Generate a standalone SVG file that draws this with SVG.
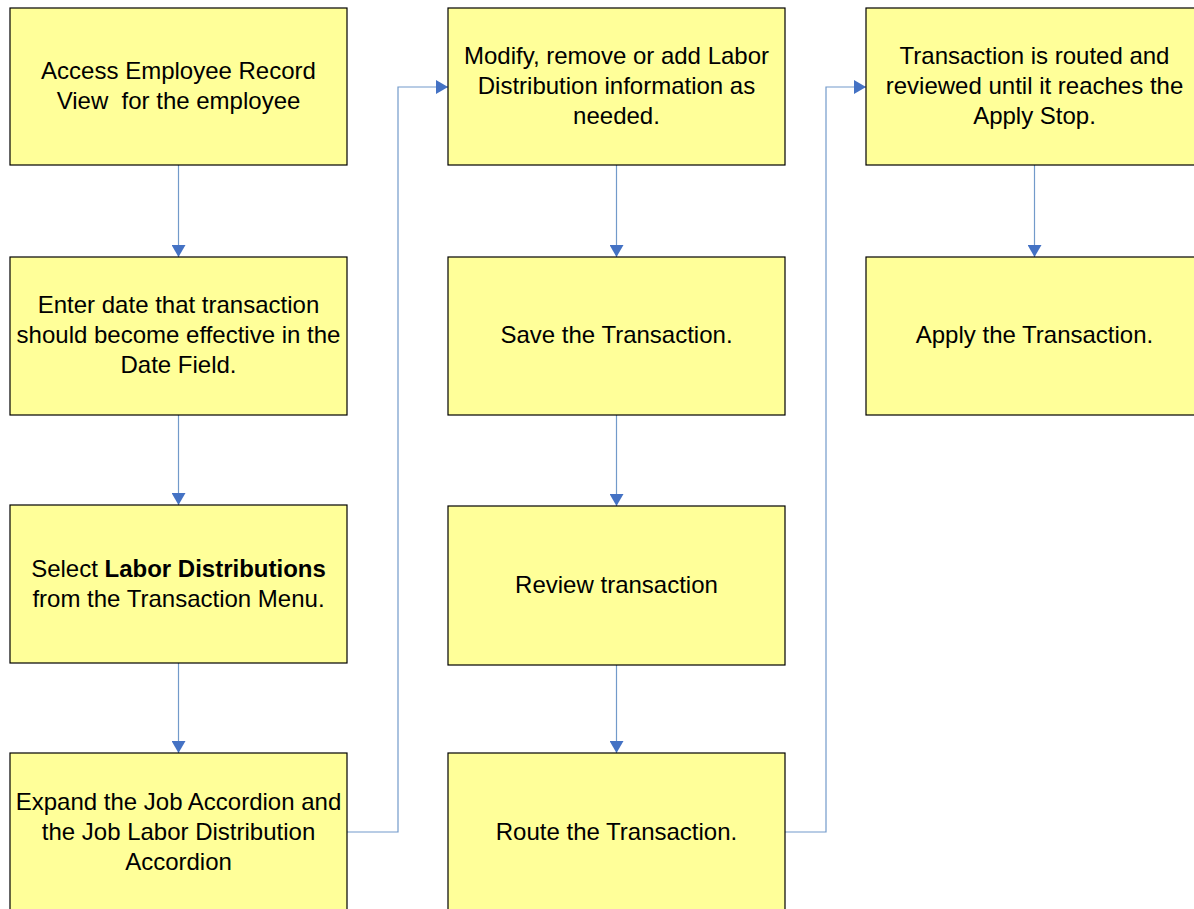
<svg xmlns="http://www.w3.org/2000/svg" width="1194" height="909" viewBox="0 0 1194 909">
<style>
.box{fill:#ffff99;stroke:#000;stroke-width:1.2}
.t{font-family:'Liberation Sans',Arimo,Arial,Helvetica,sans-serif;font-size:24px;fill:#000;text-anchor:middle}
.c{fill:none;stroke:#4f81bd;stroke-width:1.2;stroke-opacity:0.8}
</style>
<defs>
<marker id="ah" markerWidth="12" markerHeight="14" refX="12" refY="7" orient="auto" markerUnits="userSpaceOnUse">
<path d="M0,0 L12,7 L0,14 Z" fill="#4472c4"/>
</marker>
</defs>
<rect width="1194" height="909" fill="#fff"/>
<g id="connectors">
<path class="c" d="M178.5,165 V257" marker-end="url(#ah)"/>
<path class="c" d="M178.5,415 V505" marker-end="url(#ah)"/>
<path class="c" d="M178.5,663 V753" marker-end="url(#ah)"/>
<path class="c" d="M347,832 H398 V87 H448" marker-end="url(#ah)"/>
<path class="c" d="M616.5,165 V257" marker-end="url(#ah)"/>
<path class="c" d="M616.5,415 V506" marker-end="url(#ah)"/>
<path class="c" d="M616.5,665 V753" marker-end="url(#ah)"/>
<path class="c" d="M785,832 H826 V87 H866" marker-end="url(#ah)"/>
<path class="c" d="M1034.5,165 V257" marker-end="url(#ah)"/>
</g>
<g id="n1"><rect class="box" x="10" y="8" width="337" height="157"/>
<text class="t" x="178.5" y="79">Access Employee Record</text>
<text class="t" x="178.5" y="109" xml:space="preserve">View  for the employee</text></g>
<g id="n2"><rect class="box" x="10" y="257" width="337" height="158"/>
<text class="t" x="178.5" y="313">Enter date that transaction</text>
<text class="t" x="178.5" y="343">should become effective in the</text>
<text class="t" x="178.5" y="373">Date Field.</text></g>
<g id="n3"><rect class="box" x="10" y="505" width="337" height="158"/>
<text class="t" x="178.5" y="577">Select <tspan font-weight="bold">Labor Distributions</tspan></text>
<text class="t" x="178.5" y="607">from the Transaction Menu.</text></g>
<g id="n4"><rect class="box" x="10" y="753" width="337" height="160"/>
<text class="t" x="178.5" y="810">Expand the Job Accordion and</text>
<text class="t" x="178.5" y="840">the Job Labor Distribution</text>
<text class="t" x="178.5" y="870">Accordion</text></g>
<g id="n5"><rect class="box" x="448" y="8" width="337" height="157"/>
<text class="t" x="616.5" y="64">Modify, remove or add Labor</text>
<text class="t" x="616.5" y="94">Distribution information as</text>
<text class="t" x="616.5" y="124">needed.</text></g>
<g id="n6"><rect class="box" x="448" y="257" width="337" height="158"/>
<text class="t" x="616.5" y="343">Save the Transaction.</text></g>
<g id="n7"><rect class="box" x="448" y="506" width="337" height="159"/>
<text class="t" x="616.5" y="593">Review transaction</text></g>
<g id="n8"><rect class="box" x="448" y="753" width="337" height="160"/>
<text class="t" x="616.5" y="840">Route the Transaction.</text></g>
<g id="n9"><rect class="box" x="866" y="8" width="337" height="157"/>
<text class="t" x="1034.5" y="64">Transaction is routed and</text>
<text class="t" x="1034.5" y="94">reviewed until it reaches the</text>
<text class="t" x="1034.5" y="124">Apply Stop.</text></g>
<g id="n10"><rect class="box" x="866" y="257" width="337" height="158"/>
<text class="t" x="1034.5" y="343">Apply the Transaction.</text></g>
</svg>
